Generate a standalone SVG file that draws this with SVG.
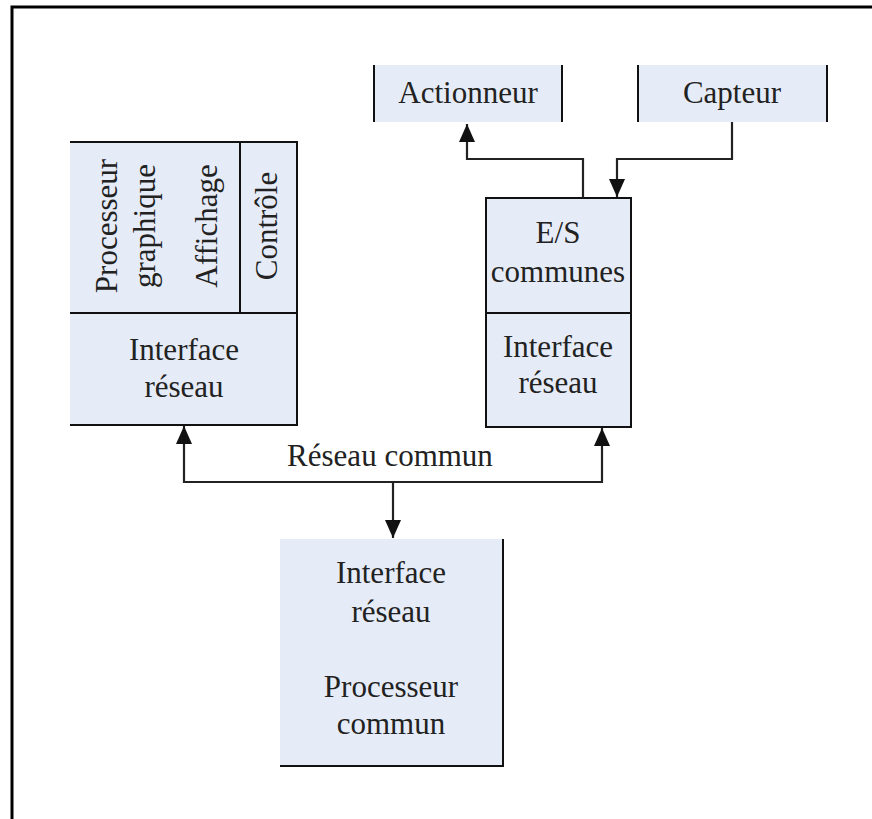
<svg xmlns="http://www.w3.org/2000/svg" width="872" height="819" viewBox="0 0 872 819">
  <style>
    .fill { fill: #e6ecf7; }
    .edge { stroke: #111; stroke-width: 2; fill: none; }
    .lbl { font-family: "Liberation Serif", "Times New Roman", serif; font-size: 31px; fill: #222; text-anchor: middle; }
    .wire { stroke: #222; stroke-width: 2.2; fill: none; }
  </style>
  <defs>
    <marker id="arrow" viewBox="0 0 18 16" refX="18" refY="8" markerWidth="18" markerHeight="16" markerUnits="userSpaceOnUse" orient="auto">
      <path d="M0,0 L18,8 L0,16 Z" fill="#111"/>
    </marker>
  </defs>

  <rect width="872" height="819" fill="#fff"/>

  <!-- outer frame: top and left edges -->
  <path d="M12,819 V7 H872" stroke="#000" stroke-width="3" fill="none"/>

  <!-- workstation: graphics, display, control over a network interface -->
  <g id="node-station">
    <rect class="fill" x="70" y="142" width="227" height="283"/>
    <path class="edge" d="M70,142 H297 V425 H70"/>
    <path class="edge" d="M70,313 H297"/>
    <path class="edge" d="M240,142 V313"/>
    <text class="lbl" transform="translate(117,226) rotate(-90)">Processeur</text>
    <text class="lbl" transform="translate(155,226) rotate(-90)">graphique</text>
    <text class="lbl" transform="translate(217,226) rotate(-90)">Affichage</text>
    <text class="lbl" transform="translate(277,226) rotate(-90)">Contrôle</text>
    <text class="lbl" x="184" y="360">Interface</text>
    <text class="lbl" x="184" y="397">réseau</text>
  </g>

  <!-- actuator -->
  <g id="node-actionneur">
    <rect class="fill" x="374" y="65" width="188" height="57"/>
    <path class="edge" d="M374,65 V122 M562,65 V122"/>
    <text class="lbl" x="468" y="103">Actionneur</text>
  </g>

  <!-- sensor -->
  <g id="node-capteur">
    <rect class="fill" x="638" y="65" width="189" height="57"/>
    <path class="edge" d="M638,65 V122 M827,65 V122"/>
    <text class="lbl" x="732" y="103">Capteur</text>
  </g>

  <!-- shared I/O over a network interface -->
  <g id="node-es">
    <rect class="fill" x="486" y="198" width="145" height="229"/>
    <rect class="edge" x="486" y="198" width="145" height="229"/>
    <path class="edge" d="M486,313 H631"/>
    <text class="lbl" x="558" y="243">E/S</text>
    <text class="lbl" x="558" y="282">communes</text>
    <text class="lbl" x="558" y="357">Interface</text>
    <text class="lbl" x="558" y="393">réseau</text>
  </g>

  <!-- shared processor -->
  <g id="node-processeur">
    <rect class="fill" x="280" y="539" width="223" height="227"/>
    <path class="edge" d="M503,539 V766 H280"/>
    <text class="lbl" x="391" y="583">Interface</text>
    <text class="lbl" x="391" y="622">réseau</text>
    <text class="lbl" x="391" y="697">Processeur</text>
    <text class="lbl" x="391" y="734">commun</text>
  </g>

  <!-- connectors -->
  <g id="connectors">
    <path class="wire" d="M583,198 V159 H467 V124" marker-end="url(#arrow)"/>
    <path class="wire" d="M732,122 V159 H617 V197" marker-end="url(#arrow)"/>
    <path class="wire" d="M393,482 H184 V426" marker-end="url(#arrow)"/>
    <path class="wire" d="M393,482 H602 V428" marker-end="url(#arrow)"/>
    <path class="wire" d="M393,482 V538" marker-end="url(#arrow)"/>
    <text class="lbl" x="390" y="466">Réseau commun</text>
  </g>
</svg>
